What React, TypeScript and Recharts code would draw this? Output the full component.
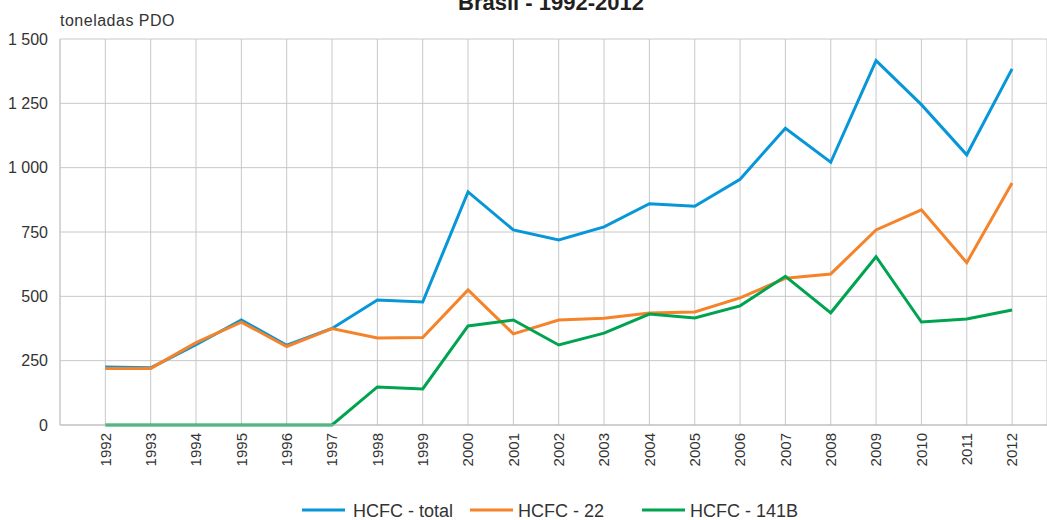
import { LineChart, Line, XAxis, YAxis, CartesianGrid } from 'recharts'

const years = [1992, 1993, 1994, 1995, 1996, 1997, 1998, 1999, 2000, 2001, 2002, 2003, 2004, 2005, 2006, 2007, 2008, 2009, 2010, 2011, 2012]
const hcfcTotal = [225, 222, 312, 408, 310, 375, 486, 478, 906, 758, 719, 770, 860, 850, 955, 1153, 1021, 1416, 1245, 1050, 1384]
const hcfc22 = [220, 220, 320, 400, 305, 375, 338, 340, 525, 354, 408, 415, 435, 439, 494, 570, 587, 758, 836, 631, 940]
const hcfc141b = [0, 0, 0, 0, 0, 0, 148, 140, 385, 408, 311, 357, 431, 416, 463, 578, 436, 654, 400, 412, 447]
const yTicks = [0, 250, 500, 750, 1000, 1250, 1500]

const seriesNames = ['HCFC - total', 'HCFC - 22', 'HCFC - 141B']
const colors = ['#0796d8', '#f5832a', '#00a34f']

const FONT = '"Liberation Sans", Arial, Helvetica, sans-serif'
const TEXT = '#333333'
const GRID = '#c8c8c8'

const chartData = years.map((year, i) => ({
  year,
  total: hcfcTotal[i],
  h22: hcfc22[i],
  h141b: hcfc141b[i],
}))

const formatThousands = (v: number) => String(v).replace(/\B(?=(\d{3})+(?!\d))/g, ' ')

function YearTick({ x, y, payload }: any) {
  return (
    <text
      x={x}
      y={y}
      dy="0.35em"
      textAnchor="end"
      transform={`rotate(-90, ${x}, ${y})`}
      fontSize={15}
      fontFamily={FONT}
      fill={TEXT}
    >
      {payload.value}
    </text>
  )
}

// legend layout, left edge of each item
const legendX = [302, 470, 642]
const legendTextGap = [51, 48, 48]

export default function App() {
  return (
    <div style={{ position: 'absolute', left: 0, top: 0, width: 1047, height: 520, background: '#fff' }}>
      <LineChart width={1047} height={520} data={chartData} margin={{ top: 39, right: 0, bottom: 35, left: 0 }}>
        <CartesianGrid stroke={GRID} strokeWidth={1} />
        <XAxis
          dataKey="year"
          type="number"
          domain={[1991, 2012.77]}
          ticks={years}
          interval={0}
          height={60}
          tickLine={false}
          tickSize={0}
          tickMargin={8}
          axisLine={{ stroke: '#bdbdbd' }}
          tick={<YearTick />}
        />
        <YAxis
          domain={[0, 1500]}
          ticks={yTicks}
          width={60}
          tickLine={false}
          tickSize={0}
          tickMargin={12}
          axisLine={{ stroke: GRID }}
          tickFormatter={formatThousands}
          tick={{ fontSize: 16, fontFamily: FONT, fill: TEXT }}
        />
        <Line type="linear" dataKey="total" name={seriesNames[0]} stroke={colors[0]} strokeWidth={3} dot={false} isAnimationActive={false} />
        <Line type="linear" dataKey="h22" name={seriesNames[1]} stroke={colors[1]} strokeWidth={3} dot={false} isAnimationActive={false} />
        <Line type="linear" dataKey="h141b" name={seriesNames[2]} stroke={colors[2]} strokeWidth={3} dot={false} isAnimationActive={false} />
      </LineChart>
      <svg width={1047} height={520} style={{ position: 'absolute', left: 0, top: 0, pointerEvents: 'none' }}>
        <text x={551} y={9.5} textAnchor="middle" fontSize={22} fontWeight="bold" fontFamily={FONT} fill="#231f20">
          Brasil - 1992-2012
        </text>
        <text x={60} y={25.5} fontSize={16} letterSpacing={0.5} fontFamily={FONT} fill={TEXT}>
          toneladas PDO
        </text>
        {seriesNames.map((name, i) => (
          <g key={name}>
            <line x1={legendX[i]} x2={legendX[i] + 43} y1={510} y2={510} stroke={colors[i]} strokeWidth={3} />
            <text x={legendX[i] + legendTextGap[i]} y={516.5} fontSize={18} fontFamily={FONT} fill={TEXT}>
              {name}
            </text>
          </g>
        ))}
      </svg>
    </div>
  )
}
